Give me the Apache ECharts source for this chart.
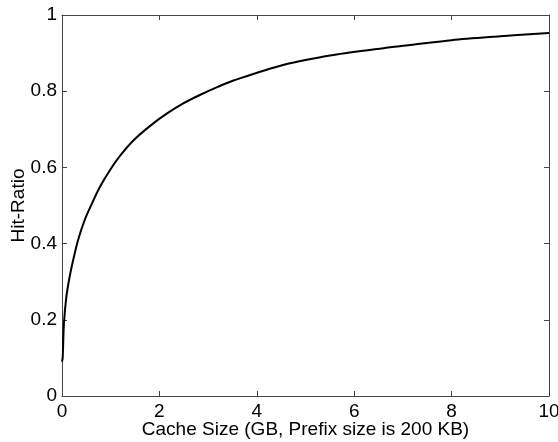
<!DOCTYPE html>
<html><head><meta charset="utf-8">
<script src="https://cdn.jsdelivr.net/npm/echarts@6/dist/echarts.min.js"></script>
<style>html,body{margin:0;padding:0;background:#fff}#c{width:558px;height:442px}</style>
</head><body><div id="c"></div>
<script>
const cacheSize = [0, 0.014, 0.04, 0.09, 0.157, 0.226, 0.329, 0.466, 0.60, 0.78, 0.98, 1.19, 1.46, 1.81, 2.15, 2.49, 2.83, 3.21, 3.52, 4.54, 5.57, 6.6, 7.15, 8.0, 9.0, 10.0];
const hitRatio  = [0.09, 0.10, 0.191, 0.261, 0.313, 0.355, 0.409, 0.462, 0.501, 0.549, 0.592, 0.630, 0.670, 0.709, 0.741, 0.768, 0.790, 0.812, 0.828, 0.869, 0.895, 0.913, 0.921, 0.934, 0.944, 0.953];
const xTicks = [0, 2, 4, 6, 8, 10];
const yTicks = [0, 0.2, 0.4, 0.6, 0.8, 1];

const chart = echarts.init(document.getElementById('c'));
const font = 'Liberation Sans, Arial, sans-serif';
const lineStyle = {color: '#444', width: 1};
const baseAxis = {
  axisLine: {show: true, onZero: false, lineStyle},
  axisTick: {show: true, inside: true, length: 5, lineStyle},
  splitLine: {show: false}
};
chart.setOption({
  animation: false,
  grid: {left: 62, top: 15, right: 9, bottom: 46, containLabel: false, outerBoundsMode: 'none'},
  xAxis: [
    Object.assign({}, baseAxis, {
      type: 'value', min: 0, max: 10, interval: 2, position: 'bottom',
      name: 'Cache Size (GB, Prefix size is 200 KB)', nameLocation: 'middle', nameGap: 24, nameMoveOverlap: false,
      nameTextStyle: {fontFamily: font, fontSize: 19, color: '#000'},
      axisLabel: {fontFamily: font, fontSize: 19, color: '#000', margin: 6,
        formatter: v => xTicks.includes(v) ? String(v) : ''}
    }),
    Object.assign({}, baseAxis, {
      type: 'value', min: 0, max: 10, interval: 2, position: 'top',
      axisLabel: {show: false}
    })
  ],
  yAxis: [
    Object.assign({}, baseAxis, {
      type: 'value', min: 0, max: 1, interval: 0.2, position: 'left',
      name: 'Hit-Ratio', nameLocation: 'middle', nameGap: 34, nameMoveOverlap: false,
      nameTextStyle: {fontFamily: font, fontSize: 19, color: '#000'},
      axisLabel: {fontFamily: font, fontSize: 19, color: '#000', margin: 5,
        formatter: v => { const t = yTicks.find(y => Math.abs(y - v) < 1e-9); return t === undefined ? '' : String(+t.toFixed(1)); }}
    }),
    Object.assign({}, baseAxis, {
      type: 'value', min: 0, max: 1, interval: 0.2, position: 'right',
      axisLabel: {show: false}
    })
  ],
  series: [{
    type: 'line', xAxisIndex: 0, yAxisIndex: 0,
    data: cacheSize.map((x, i) => [x, hitRatio[i]]),
    smooth: 0.3, showSymbol: false, symbol: 'none',
    lineStyle: {color: '#000', width: 2}
  }]
});
</script></body></html>
